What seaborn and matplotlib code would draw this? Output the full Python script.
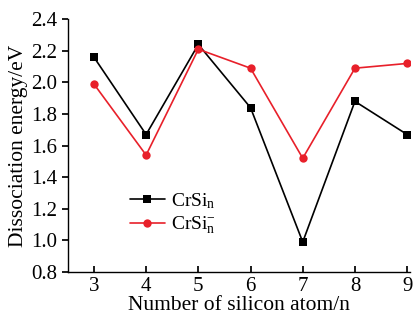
import numpy as np
import pandas as pd
import matplotlib
matplotlib.use('Agg')
import matplotlib.pyplot as plt
import seaborn as sns

# Data
n_atoms = [3, 4, 5, 6, 7, 8, 9]
neutral = [2.16, 1.67, 2.24, 1.84, 0.99, 1.88, 1.67]
anion = [1.99, 1.54, 2.21, 2.09, 1.52, 2.09, 2.12]
labels = ['CrSi$_\\mathrm{n}$', 'CrSi$_\\mathrm{n}^{-}$']

sns.set_theme(style='ticks')
plt.rcParams['font.family'] = ['Liberation Serif', 'DejaVu Serif']
plt.rcParams['mathtext.fontset'] = 'custom'
plt.rcParams['mathtext.rm'] = 'Liberation Serif'
plt.rcParams['mathtext.it'] = 'Liberation Serif:italic'
plt.rcParams['text.color'] = 'black'
plt.rcParams['axes.labelcolor'] = 'black'

df = pd.DataFrame({'n': n_atoms * 2,
                   'E': neutral + anion,
                   'kind': [labels[0]] * len(n_atoms) + [labels[1]] * len(n_atoms)})

fig, ax = plt.subplots(figsize=(4.16, 3.2), dpi=100)
fig.subplots_adjust(left=0.163, right=0.985, top=0.94, bottom=0.15)

sns.lineplot(data=df, x='n', y='E', hue='kind', style='kind',
             palette=['black', '#e8202a'], markers=['s', 'o'], dashes=False,
             markersize=6, markeredgewidth=0, linewidth=1.2, ax=ax)

ax.set_xlim(2.5, 9.05)
ax.set_ylim(0.8, 2.4)
ax.set_xticks(n_atoms)
ax.set_yticks(np.arange(0.8, 2.41, 0.2))
ax.yaxis.set_major_formatter(matplotlib.ticker.FormatStrFormatter('%.1f'))
ax.tick_params(axis='x', direction='in', length=4, labelsize=15, colors='black')
ax.tick_params(axis='y', direction='out', length=4, labelsize=15, colors='black')
for s in ['left', 'bottom']:
    ax.spines[s].set_color('black')
    ax.spines[s].set_linewidth(1.0)
sns.despine(ax=ax)

ax.set_xlabel('Number of silicon atom/n', fontsize=15.5, labelpad=0)
ax.set_ylabel('Dissociation energy/eV', fontsize=15.5, labelpad=2)

ax.legend(loc='upper left', bbox_to_anchor=(0.13, 0.39), frameon=False,
          fontsize=14, handlelength=1.8, handletextpad=0.3, labelspacing=0.2)

fig.savefig('out.png', dpi=100)
